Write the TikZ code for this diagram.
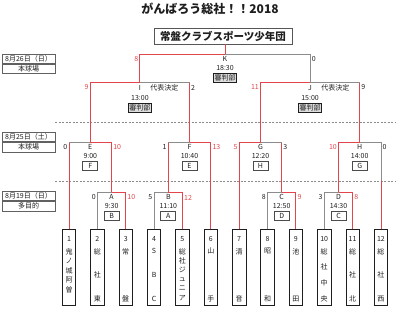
\documentclass[tikz,border=0pt]{standalone}
\usepackage{fontspec}
\setmainfont{Noto Sans CJK JP}
\usepackage{tikz}
\usetikzlibrary{positioning, calc}
\definecolor{ink}{RGB}{30,30,30}
\definecolor{winred}{RGB}{226,70,76}
\definecolor{slate}{RGB}{140,140,140}
\newcommand\sm{\fontsize{7}{8.5}\selectfont}
\newcommand\tch[1]{\hbox to 9pt{\hss#1\hss}}

\begin{document}
\begin{tikzpicture}[x=1pt, y=-1pt,
                    w/.style={winred, line width=0.9pt}, g/.style={slate, line width=0.9pt},
                    team/.style={draw=ink, line width=0.7pt, minimum width=13.5pt, minimum height=76pt, inner sep=0pt, anchor=north},
                    txt/.style={font=\sm, text=ink, inner sep=0pt},
                    col/.style={font=\sm, text=ink, inner sep=0pt, anchor=north},
                    sc/.style={font=\sm, inner sep=0pt},
                    pick/.style={draw=ink!80, line width=0.7pt, font=\sm, text=ink, minimum width=15pt, minimum height=8.5pt, inner sep=0pt},
                    ref/.style={draw=ink, line width=0.9pt, fill=slate!30, font=\sm, text=ink, minimum height=8.5pt, inner sep=1pt},
                    day/.style={draw=ink!70, line width=0.6pt, font=\sm, text=ink, minimum width=53pt, minimum height=9.5pt, inner sep=0pt},
                    sep/.style={slate, line width=0.6pt, dash pattern=on 2pt off 1.5pt}]
  \useasboundingbox (0,0) rectangle (399,311);

  % title and winner
  \node[font=\fontsize{12}{14}\selectfont\bfseries, text=ink] (title) at (210,9) {がんばろう総社！！2018};
  \node[draw=ink!75, line width=0.9pt, font=\fontsize{10.5}{12}\selectfont\bfseries, text=ink,
        minimum width=138pt, minimum height=16pt, inner sep=0pt] (champ) at (223,36) {常盤クラブスポーツ少年団};

  % days
  \node[day] (d1) at (28.5,58.75) {8月26日（日）};
  \node[day, below=0pt of d1] (p1) {本球場};
  \node[day] (d2) at (28.5,137) {8月25日（土）};
  \node[day, below=0pt of d2] (p2) {本球場};
  \node[day] (d3) at (28.5,196) {8月19日（日）};
  \node[day, below=0pt of d3] (p3) {多目的};
  \coordinate (sep1) at (55,122);
  \coordinate (sep2) at (55,181);
  \draw[sep] (sep1) -- ++(341,0);
  \draw[sep] (sep2) -- ++(341,0);

  % teams
  \foreach \n in {1,...,12} {
    \node[team] (t\n) at ({69+28.36*(\n-1)},229) {};
    \node[txt] at ([yshift=-10pt]t\n.north) {\n};
  }
  \node[col] at ([yshift=-19pt]t1.north) {\vbox to 44pt{\tch{鬼}\vfill\tch{ノ}\vfill\tch{城}\vfill\tch{阿}\vfill\tch{曽}}};
  \node[col] at ([yshift=-19pt]t2.north) {\vbox to 53pt{\tch{総}\vfill\tch{社}\vfill\tch{東}}};
  \node[col] at ([yshift=-19pt]t3.north) {\vbox to 53pt{\tch{常}\vfill\tch{盤}}};
  \node[col] at ([yshift=-19pt]t4.north) {\vbox to 53pt{\tch{S}\vfill\tch{B}\vfill\tch{C}}};
  \node[col] at ([yshift=-19pt]t5.north) {\vbox to 52pt{\tch{総}\vfill\tch{社}\vfill\tch{ジ}\vfill\tch{ュ}\vfill\tch{ニ}\vfill\tch{ア}}};
  \node[col] at ([yshift=-19pt]t6.north) {\vbox to 53pt{\tch{山}\vfill\tch{手}}};
  \node[col] at ([yshift=-19pt]t7.north) {\vbox to 53pt{\tch{清}\vfill\tch{音}}};
  \node[col] at ([yshift=-19pt]t8.north) {\vbox to 53pt{\tch{昭}\vfill\tch{和}}};
  \node[col] at ([yshift=-19pt]t9.north) {\vbox to 53pt{\tch{池}\vfill\tch{田}}};
  \node[col] at ([yshift=-19pt]t10.north) {\vbox to 53pt{\tch{総}\vfill\tch{社}\vfill\tch{中}\vfill\tch{央}}};
  \node[col] at ([yshift=-19pt]t11.north) {\vbox to 53pt{\tch{総}\vfill\tch{社}\vfill\tch{北}}};
  \node[col] at ([yshift=-19pt]t12.north) {\vbox to 53pt{\tch{総}\vfill\tch{社}\vfill\tch{西}}};

  % match points
  \coordinate (A) at (111.6,192); \coordinate (B) at (168.3,192);
  \coordinate (C) at (281.7,192); \coordinate (D) at (338.5,192);
  \coordinate (E) at (90.3,142);  \coordinate (F) at (189.5,142);
  \coordinate (G) at (260.5,142); \coordinate (H) at (359.7,142);
  \coordinate (I) at (139.9,82);  \coordinate (J) at (310.1,82);
  \coordinate (K) at (225,54);

  % 8/19
  \draw[g] (t2.north) |- (A); \draw[w] (t3.north) |- (A);
  \draw[g] (t4.north) |- (B); \draw[w] (t5.north) |- (B);
  \draw[g] (t8.north) |- (C); \draw[w] (t9.north) |- (C);
  \draw[g] (t10.north) |- (D); \draw[w] (t11.north) |- (D);
  % 8/25
  \draw[w] (t1.north) -- (t1 |- E); \draw[g] (t1 |- E) -- (E);
  \draw[w] (A) |- (E);
  \draw[w] (B) -- (B |- F); \draw[g] (B |- F) -- (F);
  \draw[w] (t6.north) |- (F);
  \draw[w] (t7.north) |- (G);
  \draw[w] (C) -- (C |- G); \draw[g] (C |- G) -- (G);
  \draw[w] (D) |- (H);
  \draw[w] (t12.north) -- (t12 |- sep2); \draw[g] (t12 |- sep2) |- (H);
  % 8/26
  \draw[w] (E) |- (I);
  \draw[w] (F) -- (F |- I); \draw[g] (F |- I) -- (I);
  \draw[w] (G) |- (J);
  \draw[w] (H) -- (H |- J); \draw[g] (H |- J) -- (J);
  \draw[w] (I) |- (K);
  \draw[g] (J) |- (K);
  \draw[w] (K) -- (K |- champ.south);

  % match labels
  \foreach \m/\tm/\pk in {A/9:30/B, B/11:10/A, C/12:50/D, D/14:30/C, E/9:00/F, F/10:40/E, G/12:20/H, H/14:00/G} {
    \node[txt] at ([yshift=-5pt]\m) {\m};
    \node[txt] at ([yshift=-14.5pt]\m) {\tm};
    \node[pick] at ([yshift=-24pt]\m) {\pk};
  }
  \node[txt] (Klab) at ([yshift=-5pt]K) {K};
  \node[txt] at ([yshift=-14.5pt]K) {18:30};
  \node[ref] at ([yshift=-24pt]K) {審判部};
  \foreach \m/\tm in {I/13:00, J/15:00} {
    \node[txt] (\m lab) at ([yshift=-6pt]\m) {\m};
    \node[txt, right=9pt of \m lab] {代表決定};
    \node[txt] at ([yshift=-16pt]\m) {\tm};
    \node[ref] at ([yshift=-26pt]\m) {審判部};
  }

  % scores
  \foreach \m/\lc/\ls/\lk/\rc/\rs/\rk in {A/t2/0/ink/t3/10/winred, B/t4/5/ink/t5/12/winred,
      C/t8/8/ink/t9/9/winred, D/t10/3/ink/t11/8/winred, E/t1/0/ink/A/10/winred,
      F/B/1/ink/t6/13/winred, G/t7/5/winred/C/3/ink, H/D/10/winred/t12/0/ink,
      I/E/9/winred/F/2/ink, J/G/11/winred/H/9/ink, K/I/8/winred/J/0/ink} {
    \node[sc, text=\lk, anchor=east, xshift=-1.5pt, yshift=-5.5pt] at (\lc |- \m) {\ls};
    \node[sc, text=\rk, anchor=west, xshift=1.5pt, yshift=-5.5pt] at (\rc |- \m) {\rs};
  }
\end{tikzpicture}
\end{document}
